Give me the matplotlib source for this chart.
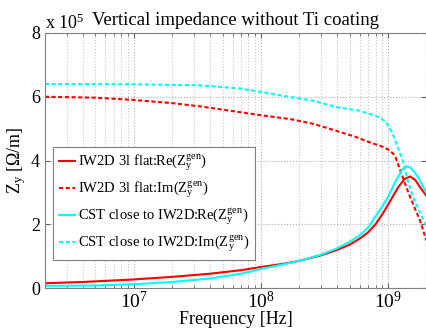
import numpy as np
import matplotlib
matplotlib.use('Agg')
import matplotlib.pyplot as plt
from matplotlib.ticker import FuncFormatter, FixedLocator

plt.rcParams['font.family'] = ['Liberation Serif', 'DejaVu Serif']
plt.rcParams['mathtext.fontset'] = 'custom'
plt.rcParams['mathtext.rm'] = 'Liberation Serif'
plt.rcParams['mathtext.it'] = 'Liberation Serif:italic'

# Datos (frecuencia en Hz, impedancia en Ohm/m)
f_re_iw2d = [2e6, 4e6, 1e7, 2e7, 4e7, 7e7, 1e8, 1.5e8, 2e8, 3e8, 4e8, 5e8, 6e8, 7e8, 8e8,
             9e8, 1e9, 1.2e9, 1.35e9, 1.5e9, 1.65e9, 1.8e9, 2e9]
re_iw2d = [0.15e5, 0.19e5, 0.27e5, 0.35e5, 0.45e5, 0.56e5, 0.66e5, 0.76e5, 0.85e5, 1.03e5, 1.2e5,
           1.36e5, 1.55e5, 1.75e5, 2.0e5, 2.3e5, 2.6e5, 3.15e5, 3.42e5, 3.5e5, 3.38e5, 3.15e5, 2.9e5]

f_im_iw2d = [2e6, 5e6, 1e7, 2e7, 3.3e7, 6e7, 1e8, 1.7e8, 2.6e8, 4e8, 5.5e8, 7.2e8, 9e8, 1e9,
             1.1e9, 1.15e9, 1.25e9, 1.4e9, 1.5e9, 1.65e9, 1.8e9, 2e9]
im_iw2d = [6.0e5, 5.97e5, 5.9e5, 5.8e5, 5.7e5, 5.55e5, 5.42e5, 5.3e5, 5.15e5, 4.92e5, 4.75e5, 4.57e5,
           4.44e5, 4.35e5, 4.22e5, 4.1e5, 3.7e5, 3.15e5, 2.85e5, 2.45e5, 2.1e5, 1.5e5]

f_re_cst = [2e6, 5e6, 1e7, 2e7, 4e7, 7e7, 1e8, 1.5e8, 2e8, 3e8, 4e8, 5e8, 6e8, 7e8, 8e8, 9e8,
            1e9, 1.15e9, 1.3e9, 1.4e9, 1.5e9, 1.65e9, 1.8e9, 2e9]
re_cst = [0.07e5, 0.08e5, 0.12e5, 0.19e5, 0.3e5, 0.45e5, 0.6e5, 0.74e5, 0.85e5, 1.05e5, 1.25e5,
          1.45e5, 1.65e5, 1.9e5, 2.25e5, 2.55e5, 2.85e5, 3.35e5, 3.72e5, 3.82e5, 3.78e5, 3.6e5, 3.35e5, 3.0e5]

f_im_cst = [2e6, 1e7, 3.3e7, 6.8e7, 1e8, 1.4e8, 2.6e8, 4e8, 6e8, 8e8, 9e8, 1e9, 1.1e9, 1.2e9,
            1.31e9, 1.45e9, 1.6e9, 1.8e9, 2e9]
im_cst = [6.4e5, 6.39e5, 6.36e5, 6.26e5, 6.15e5, 6.05e5, 5.87e5, 5.67e5, 5.56e5, 5.4e5, 5.3e5, 5.12e5,
          4.8e5, 4.4e5, 4.0e5, 3.3e5, 2.8e5, 2.35e5, 1.97e5]

fig = plt.figure(figsize=(4.27, 3.33), dpi=100)
ax = fig.add_axes([0.105, 0.135, 0.893, 0.766])

gen = '$\\mathrm{Z_y^{gen}}$'
ax.plot(f_re_iw2d, re_iw2d, color='red', lw=1.5, label='IW2D 3l flat:Re(' + gen + ')')
ax.plot(f_im_iw2d, im_iw2d, color='red', lw=1.5, ls='--', dashes=(2, 1.2), label='IW2D 3l flat:Im(' + gen + ')')
ax.plot(f_re_cst, re_cst, color='cyan', lw=1.5, label='CST close to IW2D:Re(' + gen + ')')
ax.plot(f_im_cst, im_cst, color='cyan', lw=1.5, ls='--', dashes=(2, 1.2), label='CST close to IW2D:Im(' + gen + ')')

ax.set_xscale('log')
ax.set_xlim(2e6, 2e9)
ax.set_ylim(0, 8e5)
ax.yaxis.set_major_locator(FixedLocator([0, 2e5, 4e5, 6e5, 8e5]))
ax.yaxis.set_major_formatter(FuncFormatter(lambda v, p: '%g' % (v / 1e5)))
ax.xaxis.set_major_locator(FixedLocator([1e7, 1e8, 1e9]))
ax.xaxis.set_major_formatter(FuncFormatter(lambda v, p: '$\\mathrm{10^{%d}}$' % round(np.log10(v))))

ax.grid(True, which='major', ls=':', color='#b0b0b0', lw=0.8)
ax.grid(True, which='minor', axis='x', ls=':', color='#c8c8c8', lw=0.8)
ax.tick_params(which='both', direction='in', top=True, right=True, labelsize=13, colors='#606060', labelcolor='black')
ax.tick_params(axis='x', labelsize=14, pad=2)
for s in ax.spines.values():
    s.set_color('#808080')

ax.set_title('Vertical impedance without Ti coating', fontsize=13.5, pad=6)
ax.set_xlabel('Frequency [Hz]', fontsize=13, labelpad=-1)
ax.set_ylabel('$\\mathrm{Z_y}$ [$\\Omega$/m]', fontsize=13, labelpad=2)
ax.text(0.0, 1.0, 'x 10$^5$', transform=ax.transAxes, fontsize=13, ha='left', va='bottom')

leg = ax.legend(loc='lower left', bbox_to_anchor=(0.021, 0.11), borderaxespad=0, fontsize=10.5,
                handlelength=1.1, handletextpad=0.2, borderpad=0.4, labelspacing=0.45, fancybox=False,
                framealpha=1, edgecolor='#808080')
leg.get_frame().set_linewidth(0.8)

fig.savefig('out.png', dpi=100)
